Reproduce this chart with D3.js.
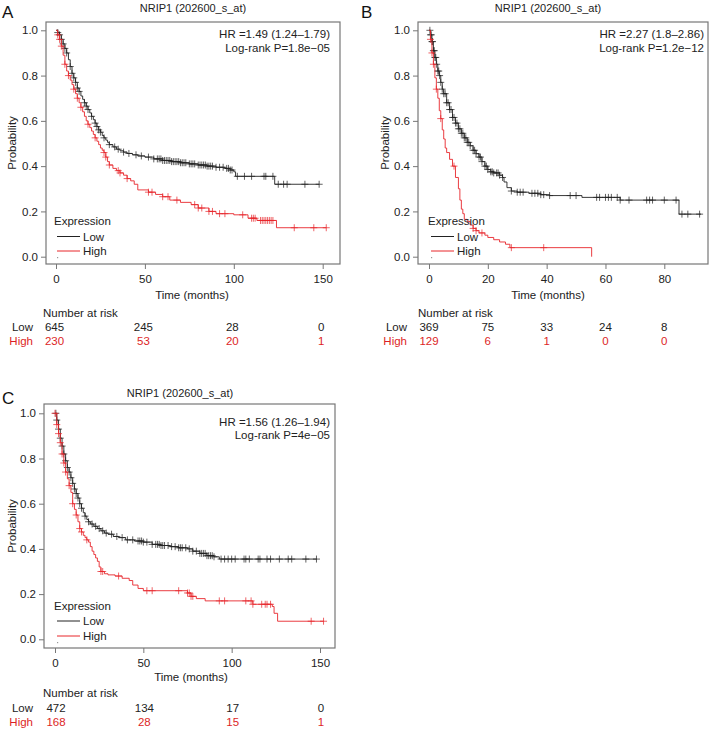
<!DOCTYPE html>
<html><head><meta charset="utf-8">
<script src="https://cdn.jsdelivr.net/npm/d3@7"></script>
<style>
body{margin:0;background:#fff;}
svg text{font-family:"Liberation Sans",Arial,Helvetica,sans-serif;}
</style>
</head><body>
<svg id="chart" width="710" height="729"></svg>
<script>
// ---------------- DATA ----------------
const title = "NRIP1 (202600_s_at)";
const yTicks = [0, 0.2, 0.4, 0.6, 0.8, 1.0];

// Panel A
const aLowT = [0,1,2,3,4,5,6,7,8,9,10,11,12,13,14,15,16,17,18,19,20,21,22,23,24,25,26,27,28,29,30,32,34,36,38,40,43,46,50,55,60,65,70,75,80,85,90,95,98,100,101,123];
const aLowS = [1.0,0.99,0.98,0.96,0.94,0.92,0.90,0.87,0.84,0.81,0.79,0.77,0.745,0.73,0.71,0.695,0.68,0.665,0.65,0.635,0.62,0.605,0.59,0.575,0.56,0.55,0.535,0.525,0.515,0.505,0.495,0.485,0.475,0.468,0.462,0.456,0.45,0.445,0.44,0.432,0.425,0.42,0.415,0.41,0.405,0.40,0.395,0.39,0.383,0.375,0.355,0.32];
const aLowEnd = 148;
const aLowCens = [1,2,3,4,5,6,8,9,10,11,12,13,16,17,18,20,22,23,24,25,27,30,33,35,38,41,45,48,52,55,57,58,59,60,61,62,63,64,65,66,67,68,69,70,71,72,73,75,76,77,78,80,81,82,83,84,85,86,87,88,90,92,94,96,97,98,99,102,106,110,117,118,122,125,128,130,140,148];
const aHighT = [0,1,2,3,4,5,6,7,8,9,10,11,12,13,14,15,16,17,18,19,20,21,22,23,24,25,26,27,28,29,30,32,34,36,38,40,42,44,46,52,56,60,64,70,76,80,86,90,100,108,113,124];
const aHighS = [1.0,0.98,0.96,0.93,0.89,0.85,0.82,0.80,0.78,0.76,0.74,0.72,0.70,0.68,0.66,0.64,0.62,0.60,0.585,0.57,0.555,0.54,0.525,0.51,0.495,0.48,0.47,0.46,0.44,0.42,0.405,0.39,0.38,0.37,0.36,0.345,0.335,0.32,0.295,0.285,0.275,0.265,0.25,0.24,0.23,0.215,0.20,0.19,0.185,0.17,0.16,0.128];
const aHighEnd = 152;
const aHighCens = [1,2,3,5,7,10,12,14,18,22,27,28,30,35,36,40,52,54,60,63,68,78,80,82,86,88,92,95,105,110,111,112,115,116,117,118,119,120,121,122,134,145,152];
const aRiskTimes = [0,50,100,150];
const aRiskLow = [645,245,28,0];
const aRiskHigh = [230,53,20,1];
const aHR = "HR =1.49 (1.24\u20131.79)";
const aP = "Log-rank P=1.8e\u221205";

// Panel B
const bLowT = [0,0.5,1,1.5,2,2.5,3,3.5,4,4.5,5,6,7,8,9,10,11,12,13,14,15,16,17,18,19,20,21,22,24,25,25.5,26.5,28,30,34,38,41,52,65,85];
const bLowS = [1.0,0.98,0.95,0.91,0.88,0.85,0.82,0.80,0.77,0.74,0.72,0.68,0.65,0.615,0.59,0.565,0.545,0.525,0.505,0.49,0.47,0.455,0.44,0.42,0.40,0.385,0.375,0.37,0.36,0.35,0.33,0.305,0.29,0.285,0.28,0.274,0.27,0.262,0.25,0.188];
const bLowEnd = 92.5;
const bLowCens = [0.3,0.5,0.8,1,1.2,1.5,1.8,2,2.3,2.6,3,3.3,3.6,4,4.5,5,5.5,6,6.5,7,7.5,8,8.5,9,9.5,10,10.5,11,11.5,12,12.5,13,13.5,14,15,15.5,16,17,17.5,18,19,19.5,20,21,21.5,22,23,23.5,24,25,28,30,31,32,35,36,37,38,39,41,48,50,57,58,60,61,62,64,65,68,74,75,76,80,84,86,88,92];
const bHighT = [0,0.5,1,1.5,2,2.5,3,3.5,4,4.5,5,5.5,6,7,8,9,10,10.5,11,11.5,12,13,14,15,16,17,19,20,22,24,26,27.5,55.3];
const bHighS = [1.0,0.96,0.90,0.85,0.79,0.74,0.70,0.645,0.61,0.56,0.52,0.48,0.46,0.43,0.40,0.35,0.30,0.25,0.21,0.19,0.165,0.155,0.14,0.125,0.115,0.105,0.095,0.085,0.075,0.065,0.055,0.04,0.0];
const bHighEnd = 55.3;
const bHighCens = [0.5,1,1.5,2.5,4,8.5,15,16,18,28,39];
const bRiskTimes = [0,20,40,60,80];
const bRiskLow = [369,75,33,24,8];
const bRiskHigh = [129,6,1,0,0];
const bHR = "HR =2.27 (1.8\u20132.86)";
const bP = "Log-rank P=1.2e\u221212";

// Panel C
const cLowT = [0,1,2,3,4,5,6,7,8,9,10,11,12,13,14,15,16,17,18,19,20,22,24,26,28,30,33,36,40,45,50,55,60,65,70,75,78,82,86,90,93];
const cLowS = [1.0,0.97,0.93,0.89,0.855,0.82,0.79,0.76,0.74,0.715,0.69,0.665,0.645,0.625,0.60,0.58,0.56,0.545,0.53,0.52,0.51,0.50,0.49,0.48,0.47,0.465,0.455,0.45,0.44,0.435,0.43,0.42,0.415,0.41,0.405,0.40,0.39,0.38,0.37,0.365,0.355];
const cLowEnd = 148;
const cLowCens = [0.5,1,2,3,4,5,6,7,8,9,10,11,12,13,14,15,17,19,21,23,25,27,29,32,35,38,41,44,47,48,49,50,52,55,57,58,59,60,61,62,64,66,68,70,71,72,74,76,78,80,82,83,84,85,86,87,88,89,90,94,96,98,100,102,107,108,110,115,116,120,122,127,132,134,142,148];
const cHighT = [0,1,2,3,4,5,6,7,8,9,10,11,12,13,14,15,16,17,18,19,20,21,22,23,24,25,26,28,30,34,38,42,44,47,50,75,77,80,85,112,123,124,126];
const cHighS = [1.0,0.95,0.91,0.87,0.82,0.78,0.74,0.71,0.68,0.65,0.60,0.575,0.55,0.52,0.49,0.475,0.46,0.45,0.44,0.43,0.41,0.39,0.375,0.36,0.345,0.32,0.30,0.29,0.285,0.28,0.27,0.26,0.24,0.225,0.215,0.205,0.19,0.18,0.17,0.155,0.145,0.115,0.08];
const cHighEnd = 152;
const cHighCens = [0,1,2,3,4,5,6,8,10,12,14,15,18,26,27,36,52,55,70,75,76,77,78,93,96,108,111,112,117,119,120,122,145,152];
const cRiskTimes = [0,50,100,150];
const cRiskLow = [472,134,17,0];
const cRiskHigh = [168,28,15,1];
const cHR = "HR =1.56 (1.26\u20131.94)";
const cP = "Log-rank P=4e\u221205";

// ---------------- LAYOUT ----------------
const RED = "#e8262b", RED_TXT = "#dd1f26", BLACK = "#222", GREY = "#777";
const panels = [
  {letter:"A", lx:2, ly:18, low:{t:aLowT,s:aLowS,end:aLowEnd,c:aLowCens}, high:{t:aHighT,s:aHighS,end:aHighEnd,c:aHighCens},
   xDomain:[0,150], xRange:[56,322.7], yRange:[256.7,30.3], box:[46,22,340,264], xTicks:aRiskTimes,
   titleX:193, titleY:12, hrX:330, hrY:[38,52], hr:aHR, p:aP,
   legX:54, legY:[221,236.5,251], xTitleX:192, xTitleY:295, riskY:[313,327,341], riskLabX:33, riskHeadX:43,
   risk:{t:aRiskTimes, low:aRiskLow, high:aRiskHigh}, riskDx:-1.5, probX:12},
  {letter:"B", lx:361, ly:18, low:{t:bLowT,s:bLowS,end:bLowEnd,c:bLowCens}, high:{t:bHighT,s:bHighS,end:bHighEnd,c:bHighCens},
   xDomain:[0,80], xRange:[429,664.3], yRange:[256.7,30.3], box:[418,22,708,264], xTicks:bRiskTimes,
   titleX:548, titleY:12, hrX:704, hrY:[38,52], hr:bHR, p:bP,
   legX:428, legY:[221,236.5,251], xTitleX:548, xTitleY:295, riskY:[313,327,341], riskLabX:407, riskHeadX:418,
   risk:{t:bRiskTimes, low:bRiskLow, high:bRiskHigh}, riskDx:0, probX:385},
  {letter:"C", lx:2, ly:404, low:{t:cLowT,s:cLowS,end:cLowEnd,c:cLowCens}, high:{t:cHighT,s:cHighS,end:cHighEnd,c:cHighCens},
   xDomain:[0,150], xRange:[55,320], yRange:[639.3,413.3], box:[44,404,335,648], xTicks:cRiskTimes,
   titleX:180, titleY:397, hrX:330, hrY:[425.5,438.5], hr:cHR, p:cP,
   legX:54, legY:[605.5,621,636], xTitleX:191, xTitleY:677, riskY:[693,708,722], riskLabX:33, riskHeadX:43,
   risk:{t:cRiskTimes, low:cRiskLow, high:cRiskHigh}, riskDx:1, probX:12}
];

const svg = d3.select("#chart");
const FS = 11.5;

function stepAt(curve, t){
  const i = d3.bisectRight(curve.t, t) - 1;
  return curve.s[Math.max(0, i)];
}

panels.forEach(p => {
  const g = svg.append("g");
  const x = d3.scaleLinear().domain(p.xDomain).range(p.xRange);
  const y = d3.scaleLinear().domain([0,1]).range(p.yRange);
  const [bx0, by0, bx1, by1] = p.box;

  g.append("text").attr("x", p.lx).attr("y", p.ly).attr("font-size", 17).attr("fill", "#111").text(p.letter);
  g.append("text").attr("x", p.titleX).attr("y", p.titleY).attr("text-anchor","middle").attr("font-size", FS-0.5).attr("fill","#222").text(title);

  g.append("rect").attr("x", bx0).attr("y", by0).attr("width", bx1-bx0).attr("height", by1-by0)
    .attr("fill","none").attr("stroke", GREY).attr("stroke-width", 1.2);

  const ya = g.append("g").attr("transform", `translate(${bx0},0)`)
    .call(d3.axisLeft(y).tickValues(yTicks).tickFormat(d3.format(".1f")).tickSize(5).tickPadding(3));
  ya.select(".domain").remove();
  ya.selectAll("line").attr("stroke", GREY);
  ya.selectAll("text").attr("font-size", FS).attr("fill","#222").attr("font-family","Liberation Sans, Arial, sans-serif");

  const xa = g.append("g").attr("transform", `translate(0,${by1})`)
    .call(d3.axisBottom(x).tickValues(p.xTicks).tickFormat(d3.format("d")).tickSize(5).tickPadding(6));
  xa.select(".domain").remove();
  xa.selectAll("line").attr("stroke", GREY);
  xa.selectAll("text").attr("font-size", FS).attr("fill","#222").attr("font-family","Liberation Sans, Arial, sans-serif");

  g.append("text").attr("x", p.xTitleX).attr("y", p.xTitleY + 4)
    .attr("text-anchor","middle").attr("font-size", FS).attr("fill","#222").text("Time (months)");
  g.append("text").attr("transform", `translate(${p.probX + 4},${(by0+by1)/2}) rotate(-90)`)
    .attr("text-anchor","middle").attr("font-size", FS).attr("fill","#222").text("Probability");

  const line = d3.line().x(d => x(d[0])).y(d => y(d[1])).curve(d3.curveStepAfter);
  [[p.low, BLACK, 0.9], [p.high, RED, 0.9]].forEach(([c, col, w]) => {
    const pts = c.t.map((t,i) => [t, c.s[i]]);
    const last = c.s[c.s.length-1];
    if (c.end > c.t[c.t.length-1]) pts.push([c.end, last]);
    g.append("path").datum(pts).attr("d", line).attr("fill","none").attr("stroke", col).attr("stroke-width", w);
    const cg = g.append("g");
    c.c.forEach(t => {
      const cx = x(t), cy = y(stepAt(c, t));
      cg.append("path").attr("d", `M${cx-3.5},${cy}H${cx+3.5}M${cx},${cy-3.5}V${cy+3.5}`)
        .attr("stroke", col).attr("stroke-width", 0.9).attr("stroke-opacity", 0.8);
    });
  });

  g.append("text").attr("x", p.hrX).attr("y", p.hrY[0]).attr("text-anchor","end").attr("font-size", FS).attr("fill","#222").text(p.hr);
  g.append("text").attr("x", p.hrX).attr("y", p.hrY[1]).attr("text-anchor","end").attr("font-size", FS).attr("fill","#222").text(p.p);

  g.append("text").attr("x", p.legX).attr("y", p.legY[0]+4).attr("font-size", FS).attr("fill","#222").text("Expression");
  [["Low", BLACK, p.legY[1]], ["High", RED, p.legY[2]]].forEach(([lab, col, ly]) => {
    g.append("line").attr("x1", p.legX+3).attr("x2", p.legX+26).attr("y1", ly).attr("y2", ly).attr("stroke", col).attr("stroke-width", 1);
    g.append("text").attr("x", p.legX+29).attr("y", ly+4).attr("font-size", FS).attr("fill","#222").text(lab);
  });
  g.append("rect").attr("x", p.legX+3).attr("y", p.legY[2]+6).attr("width",1.2).attr("height",1.2).attr("fill","#999");

  g.append("text").attr("x", p.riskHeadX).attr("y", p.riskY[0]+4).attr("font-size", FS).attr("fill","#222").text("Number at risk");
  g.append("text").attr("x", p.riskLabX).attr("y", p.riskY[1]+4).attr("text-anchor","end").attr("font-size", FS).attr("fill","#222").text("Low");
  g.append("text").attr("x", p.riskLabX).attr("y", p.riskY[2]+4).attr("text-anchor","end").attr("font-size", FS).attr("fill", RED_TXT).text("High");
  p.risk.t.forEach((t,i) => {
    g.append("text").attr("x", x(t)+p.riskDx).attr("y", p.riskY[1]+4).attr("text-anchor","middle").attr("font-size", FS).attr("fill","#222").text(p.risk.low[i]);
    g.append("text").attr("x", x(t)+p.riskDx).attr("y", p.riskY[2]+4).attr("text-anchor","middle").attr("font-size", FS).attr("fill", RED_TXT).text(p.risk.high[i]);
  });
});
</script>
</body></html>
